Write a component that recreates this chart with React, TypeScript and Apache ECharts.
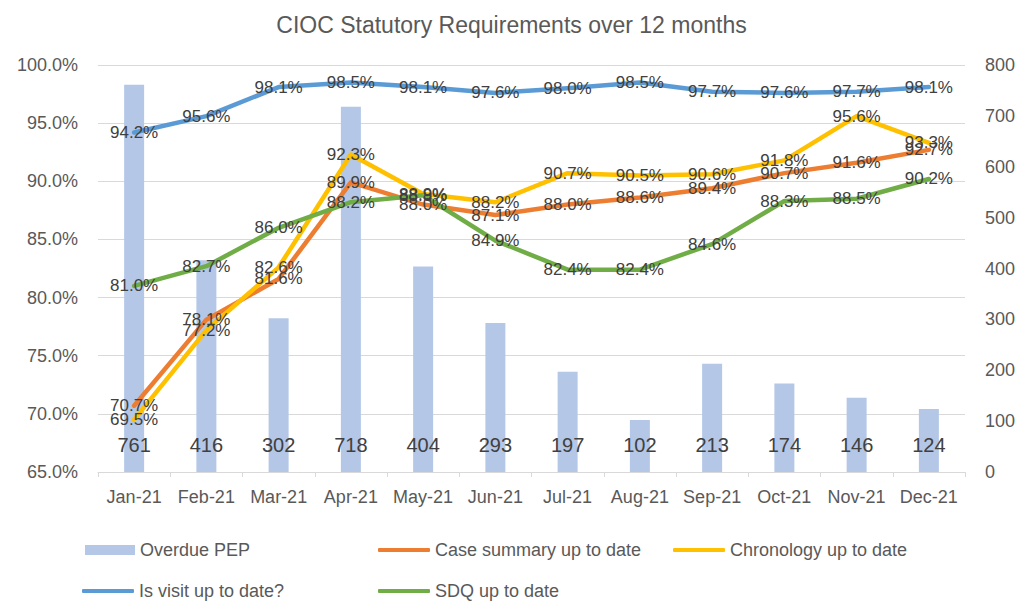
import React, { useEffect, useRef } from "react";
import * as echarts from "echarts";

const months = ["Jan-21", "Feb-21", "Mar-21", "Apr-21", "May-21", "Jun-21", "Jul-21", "Aug-21", "Sep-21", "Oct-21", "Nov-21", "Dec-21"];
const overduePEP = [761, 416, 302, 718, 404, 293, 197, 102, 213, 174, 146, 124];
const caseSummary = [70.7, 78.1, 81.6, 89.9, 88.0, 87.1, 88.0, 88.6, 89.4, 90.7, 91.6, 92.7];
const chronology = [69.5, 77.2, 82.6, 92.3, 88.9, 88.2, 90.7, 90.5, 90.6, 91.8, 95.6, 93.3];
const visitUpToDate = [94.2, 95.6, 98.1, 98.5, 98.1, 97.6, 98.0, 98.5, 97.7, 97.6, 97.7, 98.1];
const sdqUpToDate = [81.0, 82.7, 86.0, 88.2, 88.8, 84.9, 82.4, 82.4, 84.6, 88.3, 88.5, 90.2];

const FONT = "'Liberation Sans', Arial, sans-serif";
const TXT = "#595959";
const LBL = "#404040";

export default function App() {
  const ref = useRef<HTMLDivElement>(null);
  useEffect(() => {
    if (!ref.current) return;
    const chart = echarts.init(ref.current, null, { renderer: "svg" });
    const lineSeries = (name: string, data: number[], color: string) => ({
      name,
      type: "line",
      yAxisIndex: 0,
      data,
      symbol: "circle",
      symbolSize: 1,
      lineStyle: { color, width: 4.5, cap: "round", join: "round" },
      itemStyle: { color },
      label: {
        show: true,
        position: "inside",
        color: LBL,
        fontFamily: FONT,
        fontSize: 17,
        formatter: (p: any) => Number(p.value).toFixed(1) + "%",
      },
      z: 3,
    });
    const legendText = { color: TXT, fontFamily: FONT, fontSize: 18 };
    const lineLegend = (name: string, left: number, top: number) => ({
      data: [{ name, icon: "roundRect" }],
      left,
      top,
      itemWidth: 52,
      itemHeight: 4,
      itemGap: 0,
      textStyle: legendText,
      selectedMode: false,
    });
    chart.setOption({
      animation: false,
      backgroundColor: "#ffffff",
      title: {
        text: "CIOC Statutory Requirements over 12 months",
        left: "center",
        top: 8,
        textStyle: { color: TXT, fontFamily: FONT, fontSize: 23, fontWeight: "normal" },
      },
      grid: { left: 98, right: 58, top: 65, bottom: 129, containLabel: false },
      legend: [
        {
          data: [{ name: "Overdue PEP", icon: "rect" }],
          left: 80,
          top: 536,
          itemWidth: 50,
          itemHeight: 10,
          textStyle: legendText,
          selectedMode: false,
        },
        lineLegend("Case summary up to date", 373, 536),
        lineLegend("Chronology up to date", 668, 536),
        lineLegend("Is visit up to date?", 77, 577),
        lineLegend("SDQ up to date", 373, 577),
      ],
      xAxis: {
        type: "category",
        data: months,
        boundaryGap: true,
        axisLine: { show: true, lineStyle: { color: "#D9D9D9", width: 1 } },
        axisTick: { show: true, alignWithLabel: false, length: 5, lineStyle: { color: "#D9D9D9" } },
        axisLabel: { color: TXT, fontFamily: FONT, fontSize: 18, margin: 16, interval: 0 },
      },
      yAxis: [
        {
          type: "value",
          min: 65,
          max: 100,
          interval: 5,
          axisLine: { show: false },
          axisTick: { show: false },
          splitLine: { show: true, lineStyle: { color: "#D9D9D9", width: 1 } },
          axisLabel: {
            color: TXT,
            fontFamily: FONT,
            fontSize: 18,
            margin: 20,
            formatter: (v: number) => v.toFixed(1) + "%",
          },
        },
        {
          type: "value",
          min: 0,
          max: 800,
          interval: 100,
          position: "right",
          axisLine: { show: false },
          axisTick: { show: false },
          splitLine: { show: false },
          axisLabel: { color: TXT, fontFamily: FONT, fontSize: 18, margin: 20 },
        },
      ],
      series: [
        {
          name: "Overdue PEP",
          type: "bar",
          yAxisIndex: 1,
          data: overduePEP,
          barWidth: 20,
          itemStyle: { color: "#B4C7E7" },
          label: {
            show: true,
            position: "insideBottom",
            distance: 17,
            color: LBL,
            fontFamily: FONT,
            fontSize: 20,
          },
          z: 2,
        },
        lineSeries("Case summary up to date", caseSummary, "#ED7D31"),
        lineSeries("Chronology up to date", chronology, "#FFC000"),
        lineSeries("Is visit up to date?", visitUpToDate, "#5B9BD5"),
        lineSeries("SDQ up to date", sdqUpToDate, "#70AD47"),
      ],
    });
    return () => chart.dispose();
  }, []);
  return (
    <div
      ref={ref}
      style={{ position: "fixed", left: 0, top: 0, width: 1023, height: 601 }}
    />
  );
}
